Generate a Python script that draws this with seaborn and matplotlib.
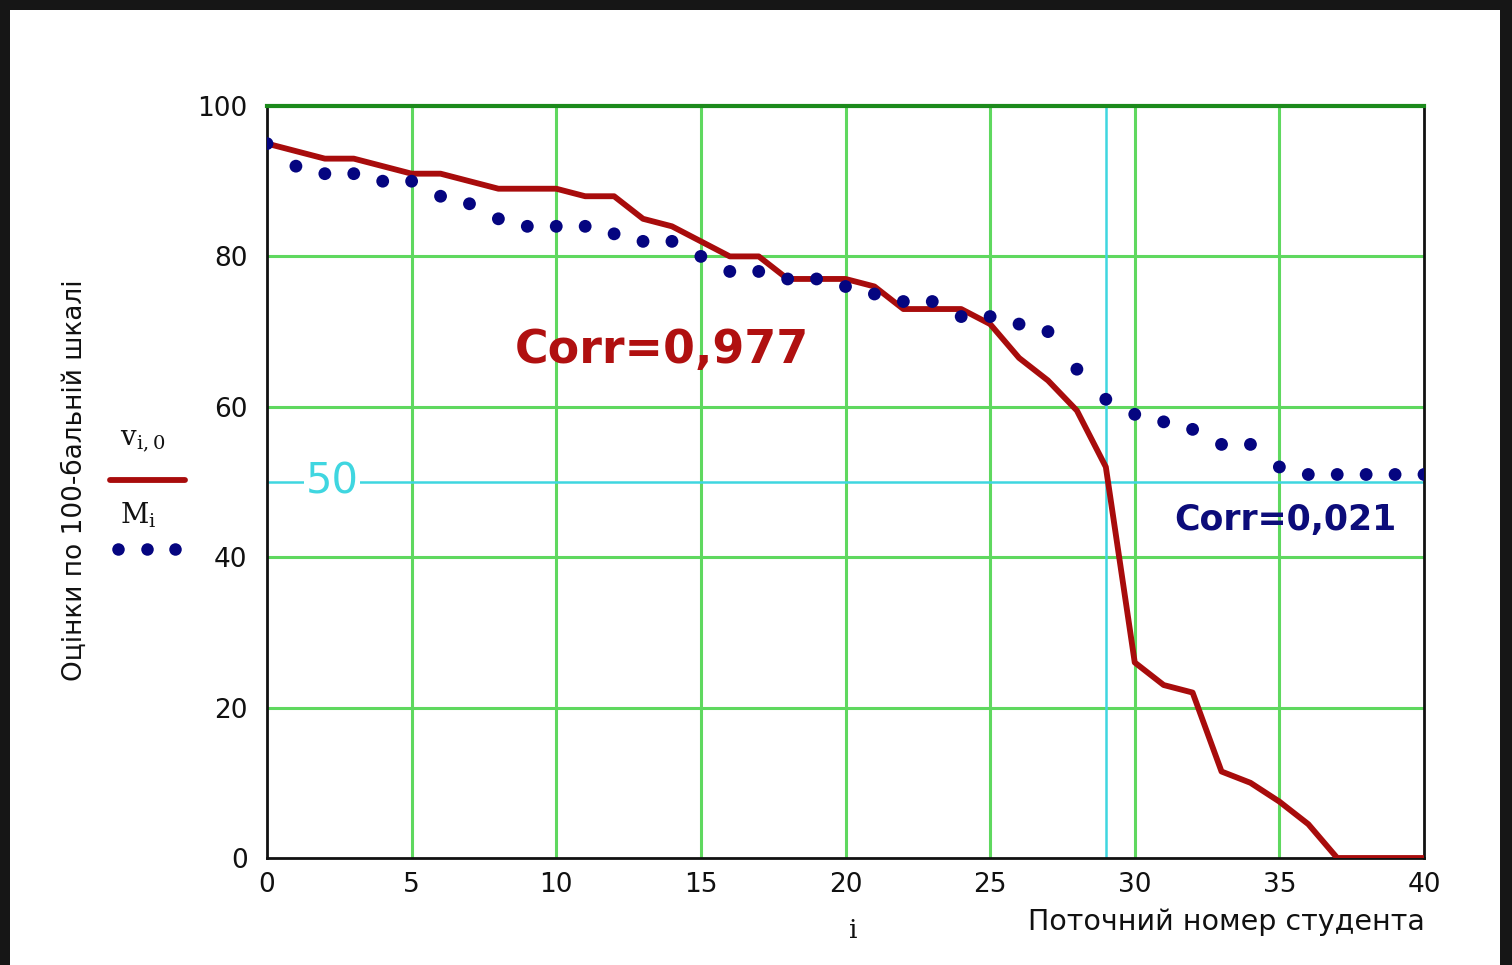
import numpy as np
import pandas as pd
import matplotlib
matplotlib.use("Agg")
import matplotlib.pyplot as plt
import seaborn as sns
from matplotlib.patches import Rectangle

# ---- data ----
student_idx = list(range(0, 41))
v_scores = [95, 94, 93, 93, 92, 91, 91, 90, 89, 89,
            89, 88, 88, 85, 84, 82, 80, 80, 77, 77,
            77, 76, 73, 73, 73, 71, 66.5, 63.5, 59.5, 52,
            26, 23, 22, 11.5, 10, 7.5, 4.5, 0, 0, 0, 0]
m_scores = [95, 92, 91, 91, 90, 90, 88, 87, 85, 84,
            84, 84, 83, 82, 82, 80, 78, 78, 77, 77,
            76, 75, 74, 74, 72, 72, 71, 70, 65, 61,
            59, 58, 57, 55, 55, 52, 51, 51, 51, 51, 51]
x_ticks = [0, 5, 10, 15, 20, 25, 30, 35, 40]
y_ticks = [0, 20, 40, 60, 80, 100]
threshold = 50
marker_i = 29
corr_v_label = "Corr=0,977"
corr_m_label = "Corr=0,021"
x_label = "Поточний номер студента"
y_label = "Оцінки по 100-бальній шкалі"

df = pd.DataFrame({"i": student_idx, "v": v_scores, "M": m_scores})

sns.set_style("white")
plt.rcParams['font.family'] = ['DejaVu Sans']

fig = plt.figure(figsize=(15.12, 9.65), dpi=100)
fig.patch.set_facecolor("#161616")
fig.add_artist(Rectangle((10/1512, 0), 1490/1512, 955/965, transform=fig.transFigure,
                         facecolor="white", edgecolor="none", zorder=-10))

ax = fig.add_axes([267/1512, 107/965, 1157/1512, 752/965])
ax.set_zorder(1)
ax.set_facecolor("white")

grid_c = "#5fd85f"
for xv in x_ticks[1:-1]:
    ax.axvline(xv, color=grid_c, lw=2.2, zorder=1)
for yv in y_ticks[1:-1]:
    ax.axhline(yv, color=grid_c, lw=2.2, zorder=1)

cyan = "#3fd6e0"
ax.axhline(threshold, color=cyan, lw=1.8, zorder=1.5)
ax.axvline(marker_i, color=cyan, lw=1.8, zorder=1.5)

sns.lineplot(data=df, x="i", y="v", ax=ax, color="#a80c0c", lw=4.2, zorder=3,
             legend=False)
sns.scatterplot(data=df, x="i", y="M", ax=ax, color="#050580", s=85,
                edgecolor="none", zorder=4, legend=False)

ax.set_xlim(0, 40)
ax.set_ylim(0, 100)
ax.set_xticks(x_ticks)
ax.set_yticks(y_ticks)
ax.tick_params(axis="both", length=0, labelsize=19, colors="#111111")
ax.tick_params(axis="x", pad=10)
ax.tick_params(axis="y", pad=14)
ax.set_xlabel("")
ax.set_ylabel("")

for side in ["left", "bottom", "right"]:
    ax.spines[side].set_color("#111111")
    ax.spines[side].set_linewidth(2)
ax.spines["top"].set_color("#1c8a1c")
ax.spines["top"].set_linewidth(3)

ax.text(2.25, threshold, str(threshold), color=cyan, fontsize=30, ha="center",
        va="center", zorder=2, bbox=dict(facecolor="white", edgecolor="none", pad=1))
ax.text(13.65, 67.5, corr_v_label, color="#b01010", fontsize=33, fontweight="bold",
        ha="center", va="center", zorder=5)
ax.text(35.2, 45.0, corr_m_label, color="#0c0c7a", fontsize=25, fontweight="bold",
        ha="center", va="center", zorder=5)

fig.text(1425/1512, 1 - 922/965, x_label, ha="right", va="center", fontsize=20.5,
         color="#111111")
fig.text(853/1512, 1 - 930/965, "i", ha="center", va="center", fontsize=19,
         family="DejaVu Serif", color="#111111")
fig.text(75/1512, 1 - 480/965, y_label, ha="center", va="center", rotation=90,
         fontsize=19, color="#111111")

# legend (Mathcad style on left)
fig.text(143/1512, 1 - 440/965, r"$\mathregular{v_{i,0}}$", ha="center", va="center",
         fontsize=20, family="DejaVu Serif", color="#111111")
fig.add_artist(plt.Line2D([110/1512, 185/1512], [1 - 480/965, 1 - 480/965],
                          color="#a80c0c", lw=4.2, transform=fig.transFigure))
fig.text(138/1512, 1 - 515/965, r"$\mathregular{M_{i}}$", ha="center", va="center",
         fontsize=20, family="DejaVu Serif", color="#111111")
for px in [118, 147, 175]:
    fig.add_artist(plt.Line2D([px/1512], [1 - 549/965], marker="o", markersize=9,
                              color="#050580", markeredgecolor="none", linestyle="none",
                              transform=fig.transFigure))

fig.savefig("out.png", dpi=100, facecolor=fig.get_facecolor())
